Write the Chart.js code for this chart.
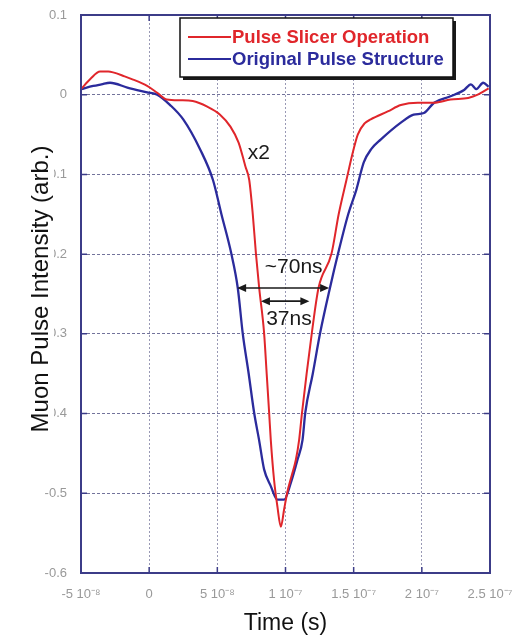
<!DOCTYPE html>
<html>
<head>
<meta charset="utf-8">
<script src="https://cdn.jsdelivr.net/npm/chart.js@4.4.1/dist/chart.umd.min.js"></script>
<style>
    html, body { margin: 0; padding: 0; background: #fff; }
    #wrap { width: 529px; height: 637px; }
</style>
</head>
<body>
<div id="wrap"><canvas id="pulseChart"></canvas></div>
<script>
// time in ns, intensity in arb. units
const slicerTime = [-50, -43, -36, -30, -26.5, -18, -11.8, -1.5, 5.9, 13, 23, 32, 42.6, 52, 59.6, 65.6, 70.6, 73.4, 76, 78.3, 80.7, 84.3, 86.2, 88, 89.2, 91.6, 94.1, 96.6, 99, 101.4, 104.5, 107.6, 110, 112.1, 115.5, 119.3, 124.2, 133.8, 139, 144.7, 149, 153, 158, 162.5, 175, 184.6, 197, 209, 221, 234, 241, 245, 249];
const slicerIntensity = [0.007, 0.020, 0.029, 0.029, 0.028, 0.023, 0.019, 0.011, 0.0025, -0.006, -0.007, -0.008, -0.015, -0.025, -0.040, -0.060, -0.090, -0.107, -0.150, -0.199, -0.2425, -0.299, -0.350, -0.399, -0.433, -0.483, -0.517, -0.542, -0.520, -0.498, -0.478, -0.458, -0.433, -0.399, -0.350, -0.299, -0.2425, -0.199, -0.150, -0.107, -0.075, -0.050, -0.036, -0.031, -0.021, -0.013, -0.010, -0.010, -0.006, -0.004, 0.0, 0.004, 0.008];

const originalTime = [-50, -41, -35, -28.7, -16, -1.5, 5.9, 15.4, 25, 37.5, 46.8, 53, 60.2, 65, 68.6, 73, 77, 80.6, 84.3, 89.2, 94.1, 99, 103.9, 108.8, 112.5, 114.5, 120, 125.4, 132.6, 138.6, 146, 152, 157.4, 163, 170, 184.6, 194, 201.5, 209, 221, 231, 236, 240, 245, 249];
const originalIntensity = [0.007, 0.011, 0.013, 0.015, 0.009, 0.003, 0.0, -0.013, -0.031, -0.069, -0.107, -0.150, -0.199, -0.2425, -0.299, -0.350, -0.399, -0.433, -0.470, -0.491, -0.508, -0.508, -0.487, -0.458, -0.433, -0.399, -0.350, -0.299, -0.2425, -0.199, -0.150, -0.119, -0.085, -0.068, -0.056, -0.035, -0.025, -0.023, -0.010, -0.002, 0.006, 0.013, 0.007, 0.015, 0.010];

const seriesNames = ['Pulse Slicer Operation', 'Original Pulse Structure'];
const xTickValues = [-50, 0, 50, 100, 150, 200, 250];
const xTickLabels = ['-5 10\u207B\u2078', '0', '5 10\u207B\u2078', '1 10\u207B\u2077', '1.5 10\u207B\u2077', '2 10\u207B\u2077', '2.5 10\u207B\u2077'];

// width arrows: [start ns, end ns, level]
const wideArrow = [64.5, 132, -0.2425];
const narrowArrow = [82, 117.5, -0.259];

const RED = '#e0262b';
const BLUE = '#2b2b9c';
const FRAME = '#3c3c88';
const FONT = '"Liberation Sans", Arial, sans-serif';

const toPoints = (xs, ys) => xs.map((x, i) => ({ x: x, y: ys[i] }));

function arrowHead(ctx, x, y, dir) {
    ctx.beginPath();
    ctx.moveTo(x, y);
    ctx.lineTo(x - dir * 9, y - 4);
    ctx.lineTo(x - dir * 9, y + 4);
    ctx.closePath();
    ctx.fill();
}

function drawArrow(ctx, chart, spec) {
    const xs = chart.scales.x, ys = chart.scales.y;
    const x1 = xs.getPixelForValue(spec[0]);
    const x2 = xs.getPixelForValue(spec[1]);
    const y = ys.getPixelForValue(spec[2]);
    ctx.strokeStyle = '#1a1a1a';
    ctx.fillStyle = '#1a1a1a';
    ctx.lineWidth = 1.6;
    ctx.beginPath();
    ctx.moveTo(x1 + 4, y);
    ctx.lineTo(x2 - 4, y);
    ctx.stroke();
    arrowHead(ctx, x1, y, -1);
    arrowHead(ctx, x2, y, 1);
}

// frame with inward ticks, y title, legend box, notes and width arrows
const annotations = {
    id: 'annotations',
    afterDraw(chart) {
        const ctx = chart.ctx;
        const xs = chart.scales.x, ys = chart.scales.y;
        const { left, right, top, bottom } = chart.chartArea;
        ctx.save();

        // frame
        ctx.strokeStyle = FRAME;
        ctx.lineWidth = 2;
        ctx.strokeRect(left, top, right - left, bottom - top);
        ctx.lineWidth = 1.5;
        ctx.beginPath();
        xTickValues.forEach(v => {
            const px = xs.getPixelForValue(v);
            ctx.moveTo(px, bottom); ctx.lineTo(px, bottom - 6);
            ctx.moveTo(px, top); ctx.lineTo(px, top + 6);
        });
        ys.ticks.forEach(t => {
            const py = ys.getPixelForValue(t.value);
            ctx.moveTo(left, py); ctx.lineTo(left + 6, py);
            ctx.moveTo(right, py); ctx.lineTo(right - 6, py);
        });
        ctx.stroke();

        // y axis title on a white band
        const yTitle = 'Muon Pulse Intensity (arb.)';
        ctx.font = '24px ' + FONT;
        const tw = ctx.measureText(yTitle).width;
        const cy = (top + bottom) / 2 - 5;
        ctx.save();
        ctx.translate(40, cy);
        ctx.rotate(-Math.PI / 2);
        ctx.fillStyle = '#fff';
        ctx.fillRect(-tw / 2 - 2, -13, tw + 4, 27);
        ctx.fillStyle = '#111';
        ctx.textAlign = 'center';
        ctx.textBaseline = 'middle';
        ctx.fillText(yTitle, 0, 1);
        ctx.restore();

        drawArrow(ctx, chart, wideArrow);
        drawArrow(ctx, chart, narrowArrow);

        ctx.fillStyle = '#1a1a1a';
        ctx.font = '21px ' + FONT;
        ctx.textAlign = 'center';
        ctx.textBaseline = 'middle';
        ctx.fillText('~70ns', xs.getPixelForValue(106), ys.getPixelForValue(-0.217));
        ctx.fillText('37ns', xs.getPixelForValue(102.5), ys.getPixelForValue(-0.282));
        ctx.fillText('x2', xs.getPixelForValue(80.5), ys.getPixelForValue(-0.074));

        // legend
        const bx = 180, by = 18, bw = 273, bh = 59;
        ctx.fillStyle = '#1a1a1a';
        ctx.fillRect(bx + 3, by + 3, bw, bh);
        ctx.fillStyle = '#fff';
        ctx.fillRect(bx, by, bw, bh);
        ctx.strokeStyle = '#111';
        ctx.lineWidth = 1.5;
        ctx.strokeRect(bx, by, bw, bh);

        const rows = [[seriesNames[0], RED, 37], [seriesNames[1], BLUE, 59]];
        ctx.textAlign = 'left';
        ctx.font = 'bold 18.5px ' + FONT;
        rows.forEach(([label, color, y]) => {
            ctx.strokeStyle = color;
            ctx.lineWidth = 2;
            ctx.beginPath();
            ctx.moveTo(188, y);
            ctx.lineTo(231, y);
            ctx.stroke();
            ctx.fillStyle = color;
            ctx.fillText(label, 232, y + 1);
        });
        ctx.restore();
    },
};

new Chart(document.getElementById('pulseChart'), {
    type: 'scatter',
    data: {
        datasets: [
            {
                label: seriesNames[0],
                data: toPoints(slicerTime, slicerIntensity),
                showLine: true,
                borderColor: RED,
                borderWidth: 2,
                pointRadius: 0,
                cubicInterpolationMode: 'monotone',
            },
            {
                label: seriesNames[1],
                data: toPoints(originalTime, originalIntensity),
                showLine: true,
                borderColor: BLUE,
                borderWidth: 2.3,
                pointRadius: 0,
                cubicInterpolationMode: 'monotone',
            },
        ],
    },
    options: {
        responsive: true,
        maintainAspectRatio: false,
        animation: false,
        layout: { padding: { top: 15, right: 39, left: 0, bottom: 0 } },
        plugins: {
            legend: { display: false },
            tooltip: { enabled: false },
        },
        scales: {
            x: {
                type: 'linear',
                min: -50,
                max: 250,
                afterBuildTicks: scale => {
                    scale.ticks = xTickValues.map(v => ({ value: v }));
                },
                afterFit: scale => { scale.height = 64; },
                ticks: {
                    color: '#999',
                    font: { size: 13, family: FONT },
                    padding: 14,
                    maxRotation: 0,
                    autoSkip: false,
                    callback: (value) => xTickLabels[xTickValues.indexOf(value)],
                },
                grid: { color: 'rgba(110, 110, 150, 0.7)', lineWidth: 1, drawTicks: false },
                border: { color: FRAME, width: 2, dash: [2, 2] },
                title: {
                    display: true,
                    text: 'Time (s)',
                    color: '#111',
                    font: { size: 23, family: FONT },
                    padding: { top: 0, bottom: 0 },
                },
            },
            y: {
                min: -0.6,
                max: 0.1,
                afterFit: scale => {
                    scale.width = 81;
                    scale.paddingTop = 0;
                    scale.paddingBottom = 0;
                },
                ticks: {
                    stepSize: 0.1,
                    color: '#999',
                    font: { size: 13, family: FONT },
                    padding: 14,
                    callback: v => (Math.abs(v) < 1e-9 ? '0' : v.toFixed(1)),
                },
                grid: { color: 'rgba(80, 80, 130, 0.8)', lineWidth: 1, drawTicks: false },
                border: { color: FRAME, width: 2, dash: [3, 2] },
                title: { display: false },
            },
        },
    },
    plugins: [annotations],
});
</script>
</body>
</html>
